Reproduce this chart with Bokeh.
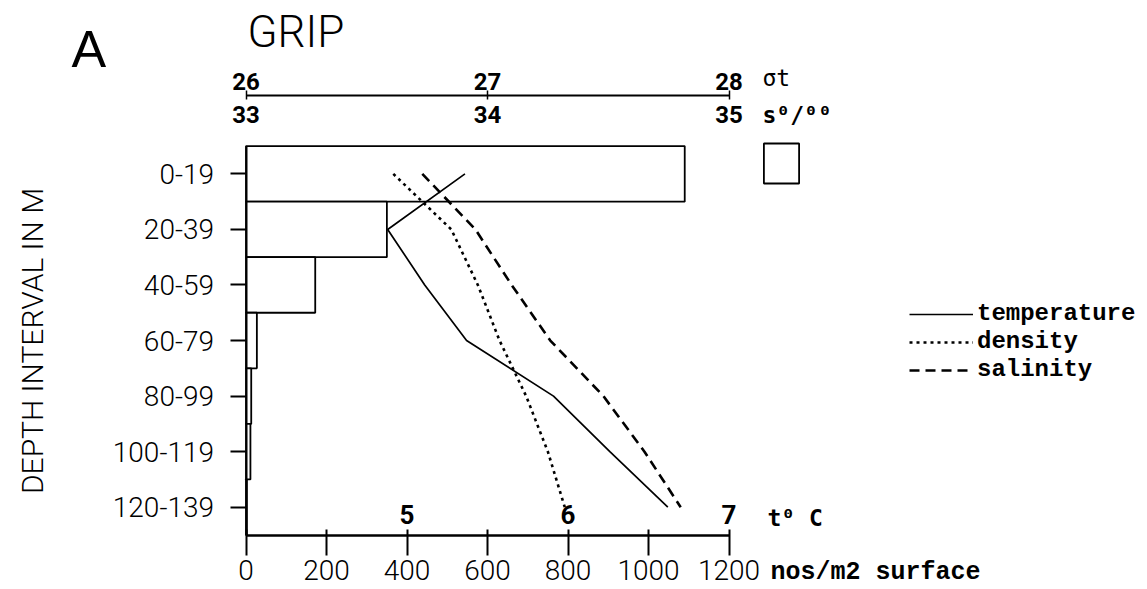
from bokeh.plotting import figure
from bokeh.models import Range1d, LinearAxis, FixedTicker, Label, Legend, LegendItem, ColumnDataSource
from bokeh.core.properties import value
from bokeh.embed import file_html
from bokeh.resources import INLINE

# ---------------- data ----------------
depth_labels = ["0-19", "20-39", "40-59", "60-79", "80-99", "100-119", "120-139"]
depth_mid = [10, 30, 50, 70, 90, 110, 130]
counts = [1090, 350, 172, 27, 13, 11, 2]                      # nos/m2 surface
temperature = [5.36, 4.88, 5.11, 5.37, 5.91, 6.26, 6.62]      # t deg C
density = [26.61, 26.85, 26.96, 27.05, 27.16, 27.25, 27.32]   # sigma-t
salinity = [33.73, 33.95, 34.10, 34.26, 34.48, 34.65, 34.80]  # s per mille
count_ticks = [0, 200, 400, 600, 800, 1000, 1200]
temp_ticks = [5, 6, 7]
sigma_ticks = [26, 27, 28]
sal_ticks = [33, 34, 35]

# relations of the secondary scales to the common x scale (nos/m2)
TEMP0, TEMP_PER = 4, 400          # t = 4 + count/400
SIG0, SAL0, SS_PER = 26, 33, 600  # sigma = 26 + count/600, s = 33 + count/600
DEPTH_MAX = 140

# ---------------- layout (pixels) ----------------
W, H = 1147, 589
PX_X0, PX_PER_COUNT = 245.5, 0.4025   # where count 0 sits, px per count unit
PX_Y0, PX_PER_M = 145.6, 2.7779       # where depth 0 sits, px per metre
TOP_AXIS_PX = 95                      # sigma-t / salinity axis line

xs, xe = -PX_X0 / PX_PER_COUNT, (W - PX_X0) / PX_PER_COUNT
yb, yt = (H - PX_Y0) / PX_PER_M, -PX_Y0 / PX_PER_M
top_axis_depth = (TOP_AXIS_PX - PX_Y0) / PX_PER_M

p = figure(width=W, height=H, output_backend="svg", toolbar_location=None,
           x_range=Range1d(xs, xe), y_range=Range1d(yb, yt),
           min_border=0, min_border_left=0, min_border_right=0, min_border_top=0, min_border_bottom=0,
           background_fill_color="white", border_fill_color="white")
p.outline_line_color = None
p.grid.visible = False

p.extra_x_ranges = {
    "temp": Range1d(TEMP0 + xs / TEMP_PER, TEMP0 + xe / TEMP_PER),
    "sig": Range1d(SIG0 + xs / SS_PER, SIG0 + xe / SS_PER),
    "sal": Range1d(SAL0 + xs / SS_PER, SAL0 + xe / SS_PER),
}

light_font = "Roboto Light"
mono = "Liberation Mono"

# y axis (depth intervals)
ya = p.yaxis[0]
ya.fixed_location = 0
ya.ticker = FixedTicker(ticks=depth_mid)
ya.major_label_overrides = {d: l for d, l in zip(depth_mid, depth_labels)}
ya.bounds = (0, DEPTH_MAX)
ya.major_tick_out = 16
ya.major_tick_in = 0
ya.minor_tick_line_color = None
ya.axis_line_width = 2
ya.major_tick_line_width = 2
ya.major_label_text_font = light_font
ya.major_label_text_font_size = "28px"
ya.major_label_text_color = "black"
ya.major_label_standoff = 16
ya.axis_label = "DEPTH INTERVAL IN M"
ya.axis_label_text_font = light_font
ya.axis_label_text_font_style = "normal"
ya.axis_label_text_font_size = "30px"
ya.axis_label_text_color = "black"
ya.axis_label_standoff = 60

# x axis (nos/m2)
xa = p.xaxis[0]
xa.fixed_location = DEPTH_MAX
xa.ticker = FixedTicker(ticks=count_ticks)
xa.bounds = (0, 1200)
xa.major_tick_out = 20
xa.major_tick_in = 6
xa.minor_tick_line_color = None
xa.axis_line_width = 2.5
xa.major_tick_line_width = 2
xa.major_label_text_font = light_font
xa.major_label_text_font_size = "28px"
xa.major_label_text_color = "black"
xa.major_label_standoff = 5

# top scales: sigma-t above the line, salinity below it
sig_ax = LinearAxis(x_range_name="sig", fixed_location=top_axis_depth,
                    ticker=FixedTicker(ticks=sigma_ticks), bounds=(26, 28),
                    axis_line_width=1.8, major_tick_out=5, major_tick_in=4, major_tick_line_width=1.5,
                    minor_tick_line_color=None, major_label_standoff=1,
                    major_label_text_font="Roboto", major_label_text_font_style="bold",
                    major_label_text_font_size="24px", major_label_text_color="black")
p.add_layout(sig_ax, "above")
sal_ax = LinearAxis(x_range_name="sal", fixed_location=top_axis_depth,
                    ticker=FixedTicker(ticks=sal_ticks),
                    axis_line_color=None, major_tick_line_color=None, minor_tick_line_color=None,
                    major_tick_out=0, major_tick_in=0, major_label_standoff=10,
                    major_label_text_font="Roboto", major_label_text_font_style="bold",
                    major_label_text_font_size="24px", major_label_text_color="black")
p.add_layout(sal_ax, "below")

# bars
src = ColumnDataSource(dict(depth=depth_mid, count=counts))
r_bar = p.hbar(y="depth", height=20, left=0, right="count", source=src,
               fill_color="white", line_color="black", line_width=1.8)

# profiles
r_t = p.line(x=temperature, y=depth_mid, x_range_name="temp", line_color="black", line_width=1.7)
r_d = p.line(x=density, y=depth_mid, x_range_name="sig", line_color="black", line_width=2.6,
             line_dash="3 4")
r_s = p.line(x=salinity, y=depth_mid, x_range_name="sal", line_color="black", line_width=2.6,
             line_dash="10 6")

# temperature scale labels sitting on the bottom axis line
p.text(x=temp_ticks, y=[DEPTH_MAX] * len(temp_ticks), text=[str(t) for t in temp_ticks],
       x_range_name="temp", text_align="center", text_baseline="alphabetic", y_offset=-21,
       text_font=value("Roboto"), text_font_style="bold", text_font_size="26px", text_color="black")

BASE_SHIFT = 0.38   # empirical: rendered alphabetic baseline sits this many em lower


def lab(text, cx, cy, font, size, style="normal"):
    cy_adj = cy - BASE_SHIFT * size
    p.add_layout(Label(x=cx, y=H - cy_adj, x_units="screen", y_units="screen", text=text,
                       text_font=font, text_font_size=f"{size}px", text_font_style=style,
                       text_align="left", text_baseline="alphabetic", text_color="black"))


lab("A", 71, 68, "Liberation Sans", 52)
lab("GRIP", 247, 48, light_font, 44)
lab("\u03c3t", 762, 86, "DejaVu Sans Mono", 23)
lab("s\u2070/\u2070\u2070", 762, 123, "DejaVu Sans Mono", 23, style="bold")
lab("t\u2070 C", 767, 526, "DejaVu Sans Mono", 23, style="bold")
lab("nos/m2 surface", 770, 581, mono, 25, style="bold")

# legends
leg = Legend(items=[LegendItem(label="temperature", renderers=[r_t]),
                    LegendItem(label="density", renderers=[r_d]),
                    LegendItem(label="salinity", renderers=[r_s])],
             location=(909, H - 383.5), glyph_width=64, glyph_height=28, label_height=28,
             spacing=0, padding=0, margin=0, label_standoff=4, border_line_color=None,
             background_fill_alpha=0, label_text_font=mono, label_text_font_style="bold",
             label_text_font_size="24px", label_text_color="black")
p.add_layout(leg)
leg2 = Legend(items=[LegendItem(label=" ", renderers=[r_bar])],
              location=(758.6, H - 188), glyph_width=44, glyph_height=50, label_height=50,
              spacing=0, padding=0, margin=0, label_standoff=0, border_line_color=None,
              background_fill_alpha=0, label_text_font_size="4px")
p.add_layout(leg2)

open("out.html", "w").write(file_html(p, INLINE))
